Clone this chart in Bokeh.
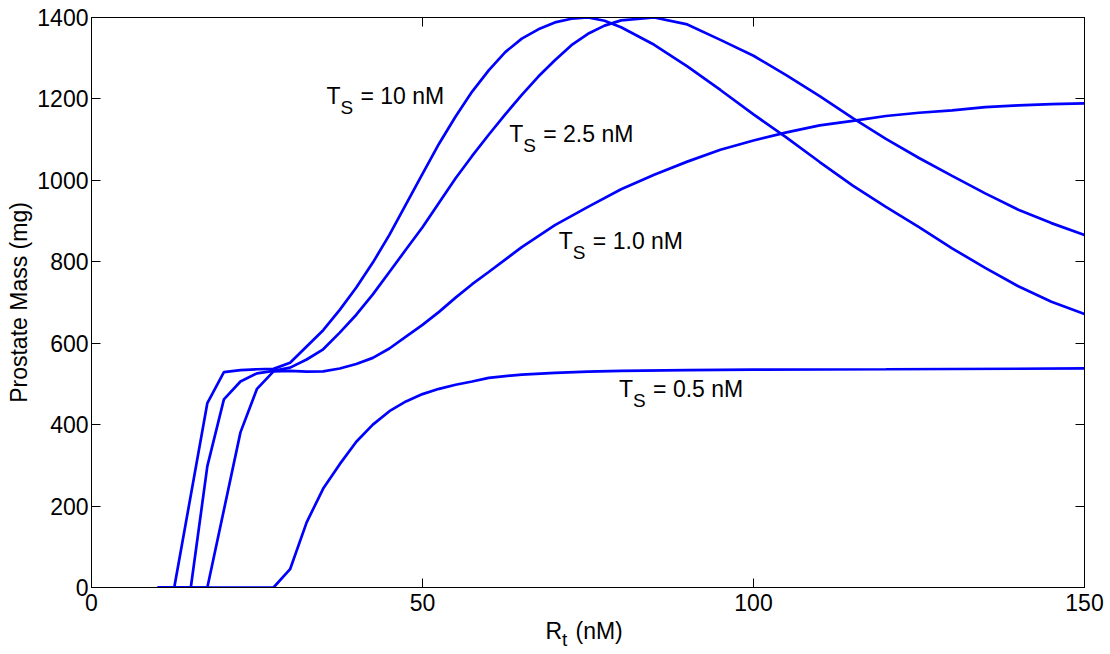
import math
from bokeh.plotting import figure
from bokeh.layouts import column
from bokeh.models import Range1d, LinearAxis, Label, FixedTicker
from bokeh.embed import file_html
from bokeh.resources import INLINE

# ---------------- data ----------------
x_ts10 = [10, 12.5, 17.5, 20, 22.5, 25, 27.5, 30, 32.5, 35, 37.5, 40, 42.5, 45, 47.5,
          50, 52.5, 55, 57.5, 60, 62.5, 65, 67.5, 70, 72.5, 75, 77.5, 80, 85, 90, 95,
          100, 105, 110, 115, 120, 125, 130, 135, 140, 145, 150]
y_ts10 = [0, 0, 453, 529, 534, 536, 537, 552, 592, 632, 682, 737, 798, 866, 941,
          1016, 1090, 1157, 1218, 1270, 1315, 1348, 1371, 1388, 1397, 1400, 1392, 1376, 1333, 1280, 1222,
          1162, 1105, 1045, 987, 935, 885, 833, 785, 740, 702, 672]

x_ts25 = [10, 15, 17.5, 20, 22.5, 25, 27.5, 30, 32.5, 35, 37.5, 40, 42.5, 45, 47.5,
          50, 52.5, 55, 57.5, 60, 62.5, 65, 67.5, 70, 72.5, 75, 77.5, 80, 85, 90, 95,
          100, 105, 110, 115, 120, 125, 130, 135, 140, 145, 150]
y_ts25 = [0, 0, 298, 462, 506, 526, 532, 540, 560, 585, 626, 670, 720, 775, 830,
          885, 945, 1005, 1060, 1112, 1162, 1210, 1255, 1295, 1332, 1360, 1380, 1393, 1400, 1383, 1345,
          1306, 1258, 1207, 1153, 1102, 1055, 1011, 968, 928, 895, 866]

x_ts10b = [10, 17.5, 22.5, 25, 27.5, 30, 32.5, 35, 37.5, 40, 42.5, 45, 47.5, 50, 52.5,
           55, 57.5, 60, 65, 70, 75, 80, 85, 90, 95, 100, 105, 110, 115, 120, 125,
           130, 135, 140, 145, 150]
y_ts10b = [0, 0, 381, 488, 531, 532, 530, 531, 538, 549, 564, 587, 616, 645, 677,
           712, 745, 775, 836, 890, 935, 978, 1014, 1046, 1075, 1098, 1118, 1135, 1146, 1158, 1166,
           1172, 1180, 1184, 1187, 1189]

x_ts05 = [10, 27.5, 30, 32.5, 35, 37.5, 40, 42.5, 45, 47.5, 50, 52.5, 55, 57.5, 60,
          65, 70, 75, 80, 90, 100, 120, 150]
y_ts05 = [0, 0, 45, 160, 243, 303, 358, 400, 433, 457, 475, 488, 498, 506, 515,
          523, 527, 530, 532, 534, 535, 536, 538]

series = [(x_ts10, y_ts10), (x_ts25, y_ts25), (x_ts10b, y_ts10b), (x_ts05, y_ts05)]

x_ticks = [0, 50, 100, 150]
y_ticks = [0, 200, 400, 600, 800, 1000, 1200, 1400]

# curve labels: value text and anchor of the "T" (data units)
label_texts = ["= 10 nM", "= 2.5 nM", "= 1.0 nM", "= 0.5 nM"]
label_x = [35.5, 63.1, 70.6, 79.7]
label_y = [1188, 1094, 832, 469]

x_title_main = "R"
x_title_sub = "t"
x_title_unit = "(nM)"
y_title = "Prostate Mass (mg)"

# ---------------- layout ----------------
FW, FH = 993, 570
LEFT, TOP, RIGHT, BOTTOM = 91, 17, 20, 50
PAGE_H = 654
STRIP_TOP = 612                      # page y where the x-title strip starts
MAIN_H = TOP + FH + BOTTOM
XLAB_H = PAGE_H - STRIP_TOP
X0, X1, Y0, Y1 = 0, 150, 0, 1400
FONT = "Liberation Sans"
LIFT = 8                             # px: raise label baselines

xr = Range1d(X0, X1)
p = figure(frame_width=FW, frame_height=FH,
           x_range=xr, y_range=Range1d(Y0, Y1),
           output_backend="svg", toolbar_location=None,
           min_border_left=LEFT, min_border_top=TOP, min_border_right=RIGHT,
           min_border_bottom=BOTTOM)
p.grid.visible = False
p.outline_line_color = "black"
p.outline_line_width = 1
p.background_fill_color = "white"
p.border_fill_color = "white"

xa = p.xaxis[0]
ya = p.yaxis[0]
xa.ticker = FixedTicker(ticks=x_ticks)
ya.ticker = FixedTicker(ticks=y_ticks)
xa.major_label_standoff = 6
ya.major_label_standoff = 3
xa.axis_label = None
ya.axis_label = y_title
ya.axis_label_text_font = FONT
ya.axis_label_text_font_size = "23px"
ya.axis_label_text_font_style = "normal"
ya.axis_label_text_color = "black"
ya.axis_label_standoff = 2

top = LinearAxis(ticker=FixedTicker(ticks=x_ticks))
right = LinearAxis(ticker=FixedTicker(ticks=y_ticks))
for ax in (top, right):
    ax.major_label_text_font_size = "0px"
    ax.major_label_standoff = 0
    ax.major_label_overrides = {t: "" for t in ax.ticker.ticks}
    ax.axis_label = None
p.add_layout(top, "above")
p.add_layout(right, "right")

for ax in (xa, ya, top, right):
    ax.major_tick_in = 9
    ax.major_tick_out = 0
    ax.minor_tick_in = 0
    ax.minor_tick_out = 0
    ax.axis_line_color = "black"
    ax.major_tick_line_color = "black"
    ax.major_label_text_font = FONT
    ax.major_label_text_color = "black"
for ax in (xa, ya):
    ax.major_label_text_font_size = "23px"

for xs, ys in series:
    p.line(xs, ys, line_color="#0000ff", line_width=2.7)

sx = FW / (X1 - X0)   # px per data unit
sy = FH / (Y1 - Y0)

def dx(px):
    return px / sx

def dy(px):
    return px / sy

for txt, lx, ly in zip(label_texts, label_x, label_y):
    by = ly + dy(LIFT)
    p.add_layout(Label(x=lx, y=by, text="T", text_font=FONT, text_font_size="23px",
                       text_color="black", text_baseline="alphabetic", text_align="left"))
    p.add_layout(Label(x=lx + dx(14), y=by - dy(11.5), text="S", text_font=FONT,
                       text_font_size="19px", text_color="black",
                       text_baseline="alphabetic", text_align="left"))
    p.add_layout(Label(x=lx + dx(34), y=by, text=txt, text_font=FONT, text_font_size="23px",
                       text_color="black", text_baseline="alphabetic", text_align="left"))

# ---------------- x axis title strip: R_t (nM), transparent, overlapping the tick-label band ----------------
q = figure(frame_width=FW, frame_height=XLAB_H, x_range=xr, y_range=Range1d(0, XLAB_H),
           output_backend="svg", toolbar_location=None,
           x_axis_location=None, y_axis_location=None,
           min_border_left=LEFT, min_border_right=RIGHT, min_border_top=0, min_border_bottom=0)
q.grid.visible = False
q.outline_line_color = None
q.background_fill_color = None
q.border_fill_color = None
q.margin = (STRIP_TOP - MAIN_H, 0, 0, 0)

r_x = X0 + dx(454)
r_y = XLAB_H - 26.3 + LIFT   # baseline of "R"
q.add_layout(Label(x=r_x, y=r_y, text=x_title_main, text_font=FONT, text_font_size="23px",
                   text_color="black", text_baseline="alphabetic", text_align="left"))
q.add_layout(Label(x=r_x + dx(16.5), y=r_y - 8.2, text=x_title_sub, text_font=FONT,
                   text_font_size="19px", text_color="black",
                   text_baseline="alphabetic", text_align="left"))
q.add_layout(Label(x=r_x + dx(30), y=r_y, text=x_title_unit, text_font=FONT, text_font_size="23px",
                   text_color="black", text_baseline="alphabetic", text_align="left"))

layout = column(p, q, spacing=0)
open("out.html", "w").write(file_html(layout, INLINE))
